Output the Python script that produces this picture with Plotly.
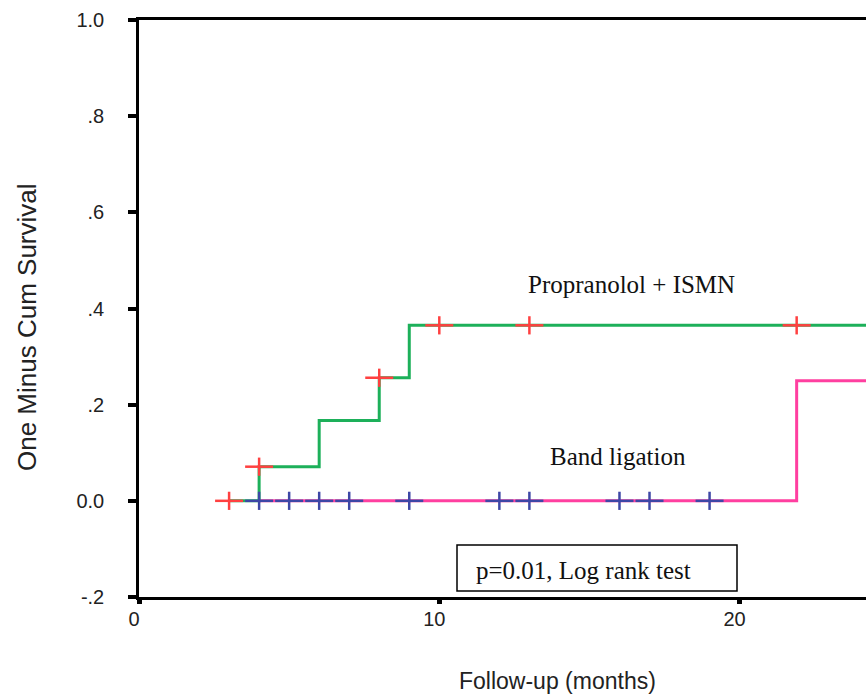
import plotly.graph_objects as go

# ---- data ----
prop_time = [3, 4, 6, 8, 9, 26]
prop_cum = [0.0, 0.071, 0.167, 0.256, 0.365, 0.365]
prop_cens_time = [3, 4, 8, 10, 13, 21.9]
prop_cens_cum = [0.0, 0.071, 0.256, 0.365, 0.365, 0.365]

band_time = [4, 21.9, 26]
band_cum = [0.0, 0.25, 0.25]
band_cens_time = [4, 5, 6, 7, 9, 12, 13, 16, 17, 19]
band_cens_cum = [0.0] * 10

y_ticks = [-0.2, 0.0, 0.2, 0.4, 0.6, 0.8, 1.0]
y_ticktext = ["-.2", "0.0", ".2", ".4", ".6", ".8", "1.0"]
x_ticks = [0, 10, 20]
x_ticktext = ["0", "10", "20"]

GREEN = "#1DB05A"
PINK = "#FF3FA0"
RED = "#FF4040"
BLUE = "#3D47A6"

fig = go.Figure()
fig.add_trace(go.Scatter(x=band_time, y=band_cum, mode="lines", line_shape="hv",
                         line=dict(color=PINK, width=3), hoverinfo="skip"))
fig.add_trace(go.Scatter(x=prop_time, y=prop_cum, mode="lines", line_shape="hv",
                         line=dict(color=GREEN, width=3), hoverinfo="skip"))
for t, c, col in [(prop_cens_time, prop_cens_cum, RED), (band_cens_time, band_cens_cum, BLUE)]:
    fig.add_trace(go.Scatter(x=t, y=c, mode="markers",
                             marker=dict(symbol="line-ew", size=20, line=dict(color=col, width=2.5))))
    fig.add_trace(go.Scatter(x=t, y=c, mode="markers",
                             marker=dict(symbol="line-ns", size=13, line=dict(color=col, width=2.5))))

W, H = 866, 695
L, R, T, B = 139, 0, 20, 98
pw, ph = W - L - R, H - T - B

def px(xpix):
    return (xpix - L) / pw

def py(ypix):
    return (H - B - ypix) / ph

sans = "Liberation Sans, Arial, sans-serif"
serif = "Liberation Serif, Times New Roman, serif"

fig.update_layout(
    width=W, height=H, showlegend=False,
    margin=dict(l=L, r=R, t=T, b=B, pad=0),
    plot_bgcolor="white", paper_bgcolor="white",
    xaxis=dict(range=[0, pw / 30.03], tickvals=x_ticks, ticktext=x_ticktext,
               showgrid=False, zeroline=False, showline=True, linecolor="black",
               linewidth=2.5, mirror=True, ticks="outside", ticklen=4, tickwidth=5,
               tickcolor="black", ticklabelshift=-5, ticklabelstandoff=-2,
               tickfont=dict(family=sans, size=20, color="#222")),
    yaxis=dict(range=[-0.2, 1.0], tickvals=y_ticks, ticktext=y_ticktext,
               showgrid=False, zeroline=False, showline=True, linecolor="black",
               linewidth=2.5, ticks="outside", ticklen=8, tickwidth=4,
               tickcolor="black", ticklabelstandoff=20,
               tickfont=dict(family=sans, size=20, color="#222")),
    annotations=[
        dict(text="One Minus Cum Survival", xref="paper", yref="paper",
             x=px(27), y=py(327), textangle=-90, showarrow=False,
             font=dict(family=sans, size=26, color="#222"),
             xanchor="center", yanchor="middle"),
        dict(text="Follow-up (months)", xref="paper", yref="paper",
             x=px(557), y=py(681), showarrow=False,
             font=dict(family=sans, size=23, color="#222"),
             xanchor="center", yanchor="middle"),
        dict(text="Propranolol + ISMN", xref="paper", yref="paper",
             x=px(631), y=py(284), showarrow=False,
             font=dict(family=serif, size=25, color="#111"),
             xanchor="center", yanchor="middle"),
        dict(text="Band ligation", xref="paper", yref="paper",
             x=px(618), y=py(456), showarrow=False,
             font=dict(family=serif, size=25, color="#111"),
             xanchor="center", yanchor="middle"),
        dict(text="p=0.01, Log rank test", xref="paper", yref="paper",
             x=px(474), y=py(570), showarrow=False,
             font=dict(family=serif, size=25, color="#111"),
             xanchor="left", yanchor="middle"),
    ],
    shapes=[
        dict(type="rect", xref="paper", yref="paper",
             x0=px(457), x1=px(737), y0=py(591), y1=py(545),
             line=dict(color="black", width=1.5), fillcolor="rgba(0,0,0,0)"),
    ],
)

fig.write_html("out.html")
